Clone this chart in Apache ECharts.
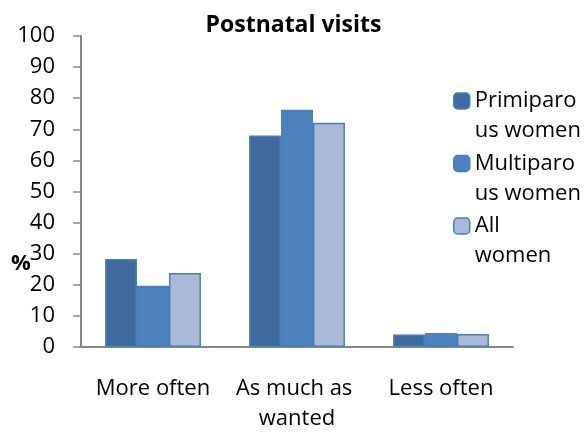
<!DOCTYPE html>
<html>
<head>
<meta charset="utf-8">
<script src="https://cdn.jsdelivr.net/npm/echarts@6/dist/echarts.min.js"></script>
<style>
html,body{margin:0;padding:0;background:#fff;}
#chart{width:587px;height:432px;}
</style>
</head>
<body>
<div id="chart"></div>
<script>
const categories = ['More often', 'As much as wanted', 'Less often'];
const seriesNames = ['Primiparous women', 'Multiparous women', 'All women'];
const legendLabels = ['Primiparo\nus women', 'Multiparo\nus women', 'All\nwomen'];
const primiparous = [28.3, 68.0, 4.0];
const multiparous = [19.7, 76.3, 4.5];
const allWomen = [23.8, 72.1, 4.2];
const yTicks = [0, 10, 20, 30, 40, 50, 60, 70, 80, 90, 100];

const FONT = 'Open Sans';
const colors = ['#406A9D', '#4F81BD', '#AAB9D8'];
const values = [primiparous, multiparous, allWomen];
const labelMap = {};
// a leading empty line keeps the legend square level with the first text line
seriesNames.forEach((n, i) => { labelMap[n] = ' \n' + legendLabels[i]; });

const chart = echarts.init(document.getElementById('chart'), null, {renderer: 'canvas'});
chart.setOption({
  animation: false,
  backgroundColor: '#ffffff',
  title: {
    text: 'Postnatal visits',
    left: 'center',
    top: 9,
    textStyle: {fontFamily: FONT, fontWeight: 'bold', fontSize: 23, color: '#000'}
  },
  grid: {left: 81, right: 74, top: 36, bottom: 85, containLabel: false, outerBoundsMode: 'none'},
  legend: {
    orient: 'vertical',
    left: 453,
    top: 56,
    padding: 0,
    itemWidth: 16,
    itemHeight: 16,
    itemGap: -27.5,
    data: seriesNames,
    formatter: n => labelMap[n],
    textStyle: {fontFamily: FONT, fontSize: 22, color: '#000', lineHeight: 30},
    itemStyle: {borderColor: '#4A7EBB', borderWidth: 1.5}
  },
  xAxis: {
    type: 'category',
    data: categories,
    axisLine: {lineStyle: {color: '#868686', width: 2}},
    axisTick: {show: false},
    axisLabel: {
      interval: 0, margin: 27, color: '#000', fontFamily: FONT, fontSize: 22,
      lineHeight: 30, width: 140, overflow: 'break'
    }
  },
  yAxis: {
    type: 'value',
    min: yTicks[0],
    max: yTicks[yTicks.length - 1],
    interval: 10,
    axisLine: {show: true, lineStyle: {color: '#868686', width: 2}},
    axisTick: {show: true, length: 8, lineStyle: {color: '#868686', width: 1.5}},
    splitLine: {show: false},
    axisLabel: {margin: 26, color: '#000', fontFamily: FONT, fontSize: 22}
  },
  graphic: [{
    type: 'text', left: 11, top: 253,
    style: {text: '%', fontFamily: FONT, fontWeight: 'bold', fontSize: 22, fill: '#000'}
  }],
  series: seriesNames.map((name, i) => ({
    name: name,
    type: 'bar',
    data: values[i],
    barGap: '0%',
    barCategoryGap: '33.4%',
    itemStyle: {color: colors[i], borderColor: '#4A7EBB', borderWidth: 1.5}
  }))
});
</script>
</body>
</html>
